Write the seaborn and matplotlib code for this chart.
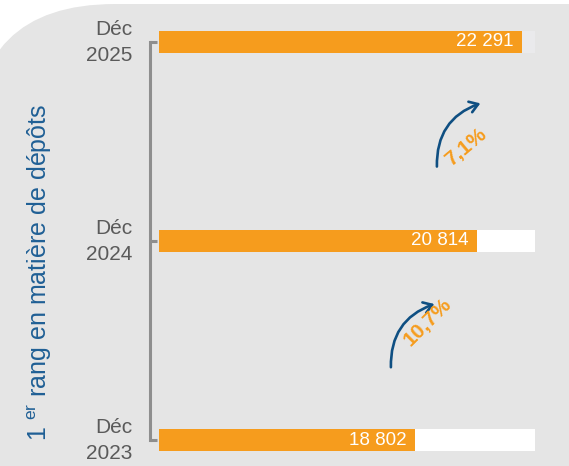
import numpy as np
import seaborn as sns
import matplotlib.pyplot as plt
from matplotlib.patches import FancyBboxPatch, FancyArrowPatch
from matplotlib.transforms import ScaledTranslation

# data
periods = ["Déc\n2025", "Déc\n2024", "Déc\n2023"]
depots = [22291, 20814, 18802]
track = [22710, 22710, 22710]
track_colors = ["#eaeaec", "white", "white"]

ORANGE = "#f69c1d"
BLUE = "#0f4f82"
GREY_BG = "#e5e5e5"

sns.set_theme(style="white")
plt.rcParams["font.family"] = ["Liberation Sans", "DejaVu Sans"]

fig = plt.figure(figsize=(5.69, 4.66), dpi=100)

# rounded grey background (pixel coords)
bg = fig.add_axes([0, 0, 1, 1], zorder=0)
bg.set_xlim(0, 569)
bg.set_ylim(466, 0)
bg.axis("off")
bg.add_patch(FancyBboxPatch((-27, 4), 900, 700,
                            boxstyle="round,pad=0,rounding_size=142",
                            fc=GREY_BG, ec="none"))

ax = fig.add_axes([159 / 569, 1 - 460 / 466, 410 / 569, 438 / 466], zorder=1)
ax.patch.set_alpha(0)

sns.barplot(x=track, y=periods, hue=periods, palette=track_colors,
            orient="h", width=0.11, legend=False, linewidth=0,
            saturation=1, ax=ax, zorder=1)
sns.barplot(x=depots, y=periods, color=ORANGE, orient="h", width=0.11,
            linewidth=0, saturation=1, ax=ax, zorder=2)

ax.set_xlim(10454, 23822)
ax.set_ylim(2.1, -0.1)
ax.set_xticks([])
ax.set_xlabel("")
ax.set_ylabel("")

for s in ["top", "right", "bottom"]:
    ax.spines[s].set_visible(False)
ax.spines["left"].set_position(("outward", 6.5))
ax.spines["left"].set_bounds(0, 2)
ax.spines["left"].set_color("#8e8e8e")
ax.spines["left"].set_linewidth(2.2)
ax.tick_params(axis="y", direction="in", length=5, width=2.2,
               color="#8e8e8e", labelcolor="#5a5a5a", labelsize=15, pad=13,
               left=True)
shift = ScaledTranslation(0, 5 / 100, fig.dpi_scale_trans)
for t in ax.get_yticklabels():
    t.set_linespacing(1.45)
    t.set_transform(t.get_transform() + shift)

# value labels inside bars
for i, v in enumerate(depots):
    ax.annotate(f"{v:,}".replace(",", " "), (v, i), xytext=(-6, 0),
                textcoords="offset points", ha="right", va="center",
                color="white", fontsize=13.5, zorder=3)

# growth arrows between years
arrow_starts = [(19518, 0.64), (18018, 1.648)]
text_offsets = [(29, 22), (37, 48)]
text_angles = [40, 45]
for i in range(len(depots) - 1):
    g = (depots[i] / depots[i + 1] - 1) * 100
    x0, y0 = arrow_starts[i]
    arr = FancyArrowPatch((x0, y0), (x0 + 1500, y0 - 0.336),
                          connectionstyle="arc3,rad=-0.38",
                          arrowstyle="->,head_length=6,head_width=4",
                          color=BLUE, lw=1.9, zorder=4)
    ax.add_patch(arr)
    txt = f"{g:.1f}%".replace(".", ",")
    ax.annotate(txt, (x0, y0), xytext=text_offsets[i],
                textcoords="offset pixels", rotation=text_angles[i],
                rotation_mode="anchor", ha="center", va="center",
                color=ORANGE, fontsize=15, fontweight="bold", zorder=4)

fig.text(40 / 569, 1 - 441 / 466,
         "1 $^{\\mathregular{er}}$ rang en matière de dépôts",
         rotation=90, ha="center", va="bottom", color="#1f5f95", fontsize=18)

fig.savefig("out.png", dpi=100)
